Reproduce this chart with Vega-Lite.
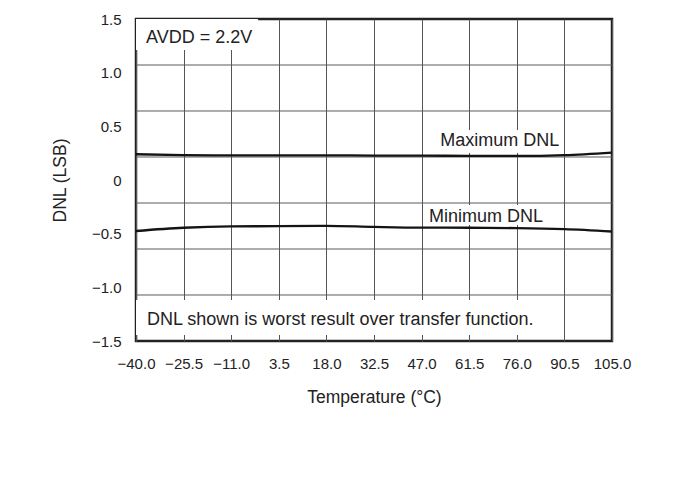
{
  "$schema": "https://vega.github.io/schema/vega-lite/v6.json",
  "autosize": {"type": "none"},
  "width": 476,
  "height": 322,
  "padding": {"left": 136, "top": 19, "right": 64, "bottom": 150},
  "background": "white",
  "config": {
    "view": {"stroke": "#222222", "strokeWidth": 2.5},
    "font": "Liberation Sans"
  },
  "datasets": {
    "curves": [
      {"t": -40, "dnl": 0.24, "series": "Maximum DNL"},
      {"t": -25.5, "dnl": 0.232, "series": "Maximum DNL"},
      {"t": -11, "dnl": 0.23, "series": "Maximum DNL"},
      {"t": 3.5, "dnl": 0.23, "series": "Maximum DNL"},
      {"t": 18, "dnl": 0.229, "series": "Maximum DNL"},
      {"t": 32.5, "dnl": 0.228, "series": "Maximum DNL"},
      {"t": 47, "dnl": 0.227, "series": "Maximum DNL"},
      {"t": 61.5, "dnl": 0.225, "series": "Maximum DNL"},
      {"t": 76, "dnl": 0.224, "series": "Maximum DNL"},
      {"t": 90.5, "dnl": 0.232, "series": "Maximum DNL"},
      {"t": 105, "dnl": 0.256, "series": "Maximum DNL"},
      {"t": -40, "dnl": -0.475, "series": "Minimum DNL"},
      {"t": -25.5, "dnl": -0.445, "series": "Minimum DNL"},
      {"t": -11, "dnl": -0.432, "series": "Minimum DNL"},
      {"t": 3.5, "dnl": -0.43, "series": "Minimum DNL"},
      {"t": 18, "dnl": -0.427, "series": "Minimum DNL"},
      {"t": 32.5, "dnl": -0.437, "series": "Minimum DNL"},
      {"t": 47, "dnl": -0.444, "series": "Minimum DNL"},
      {"t": 61.5, "dnl": -0.445, "series": "Minimum DNL"},
      {"t": 76, "dnl": -0.448, "series": "Minimum DNL"},
      {"t": 90.5, "dnl": -0.458, "series": "Minimum DNL"},
      {"t": 105, "dnl": -0.48, "series": "Minimum DNL"}
    ],
    "hgrid": [
      {"v": 1.0714}, {"v": 0.6429}, {"v": 0.2143},
      {"v": -0.2143}, {"v": -0.6429}, {"v": -1.0714}
    ]
  },
  "layer": [
    {
      "data": {"name": "curves"},
      "mark": {"type": "line", "opacity": 0},
      "encoding": {
        "x": {
          "field": "t", "type": "quantitative",
          "scale": {"domain": [-40, 105], "nice": false, "zero": false},
          "axis": {
            "values": [-40, -25.5, -11, 3.5, 18, 32.5, 47, 61.5, 76, 90.5, 105],
            "labelExpr": "replace(format(datum.value, '.1f'), '-', '–')",
            "grid": true, "gridColor": "#555555", "gridWidth": 1,
            "ticks": false, "domain": false,
            "labelFont": "Liberation Sans", "labelFontSize": 15, "labelColor": "#222222",
            "labelPadding": 15, "labelFlush": false,
            "title": "Temperature (°C)", "titleFont": "Liberation Sans",
            "titleFontSize": 17.5, "titleFontWeight": "normal", "titleColor": "#222222",
            "titlePadding": 17
          }
        },
        "y": {
          "field": "dnl", "type": "quantitative",
          "scale": {"domain": [-1.5, 1.5], "nice": false, "zero": false},
          "axis": {
            "values": [-1.5, -1, -0.5, 0, 0.5, 1, 1.5],
            "labelExpr": "datum.value == 0 ? '0' : replace(format(datum.value, '.1f'), '-', '–')",
            "grid": false, "ticks": false, "domain": false,
            "labelFont": "Liberation Sans", "labelFontSize": 15, "labelColor": "#222222",
            "labelPadding": 15, "labelFlush": false,
            "title": "DNL (LSB)", "titleFont": "Liberation Sans",
            "titleFontSize": 17.5, "titleFontWeight": "normal", "titleColor": "#222222",
            "titlePadding": 22
          }
        }
      }
    },
    {
      "data": {"name": "hgrid"},
      "mark": {"type": "rule", "color": "#5a5a5a", "strokeWidth": 1},
      "encoding": {"y": {"field": "v", "type": "quantitative"}}
    },
    {
      "data": {"values": [{}]},
      "mark": {"type": "rect", "color": "white"},
      "encoding": {
        "x": {"datum": -40}, "x2": {"datum": -2.8},
        "y": {"datum": 1.5}, "y2": {"datum": 1.211}
      }
    },
    {
      "data": {"values": [{}]},
      "mark": {"type": "rect", "color": "white"},
      "encoding": {
        "x": {"datum": -40}, "x2": {"datum": 84.6},
        "y": {"datum": -1.118}, "y2": {"datum": -1.444}
      }
    },
    {
      "data": {"values": [{}]},
      "mark": {"type": "rect", "color": "white"},
      "encoding": {
        "x": {"datum": 51.5}, "x2": {"datum": 89.8},
        "y": {"datum": 0.466}, "y2": {"datum": 0.252}
      }
    },
    {
      "data": {"values": [{}]},
      "mark": {"type": "rect", "color": "white"},
      "encoding": {
        "x": {"datum": 48.4}, "x2": {"datum": 85.2},
        "y": {"datum": -0.233}, "y2": {"datum": -0.42}
      }
    },
    {
      "data": {"name": "curves"},
      "mark": {"type": "line", "color": "#141414", "strokeWidth": 2.3, "interpolate": "monotone"},
      "encoding": {
        "x": {"field": "t", "type": "quantitative"},
        "y": {"field": "dnl", "type": "quantitative"},
        "detail": {"field": "series"}
      }
    },
    {
      "data": {"values": [{"label": "AVDD = 2.2V"}]},
      "mark": {"type": "text", "align": "left", "baseline": "alphabetic", "font": "Liberation Sans", "fontSize": 18, "color": "#222222"},
      "encoding": {"x": {"datum": -36.95}, "y": {"datum": 1.279}, "text": {"field": "label"}}
    },
    {
      "data": {"values": [{"label": "DNL shown is worst result over transfer function."}]},
      "mark": {"type": "text", "align": "left", "baseline": "alphabetic", "font": "Liberation Sans", "fontSize": 18, "color": "#222222"},
      "encoding": {"x": {"datum": -36.65}, "y": {"datum": -1.351}, "text": {"field": "label"}}
    },
    {
      "data": {"values": [{"label": "Maximum DNL"}]},
      "mark": {"type": "text", "align": "right", "baseline": "alphabetic", "font": "Liberation Sans", "fontSize": 18, "color": "#222222"},
      "encoding": {"x": {"datum": 88.9}, "y": {"datum": 0.317}, "text": {"field": "label"}}
    },
    {
      "data": {"values": [{"label": "Minimum DNL"}]},
      "mark": {"type": "text", "align": "right", "baseline": "alphabetic", "font": "Liberation Sans", "fontSize": 18, "color": "#222222"},
      "encoding": {"x": {"datum": 84.0}, "y": {"datum": -0.391}, "text": {"field": "label"}}
    }
  ]
}
